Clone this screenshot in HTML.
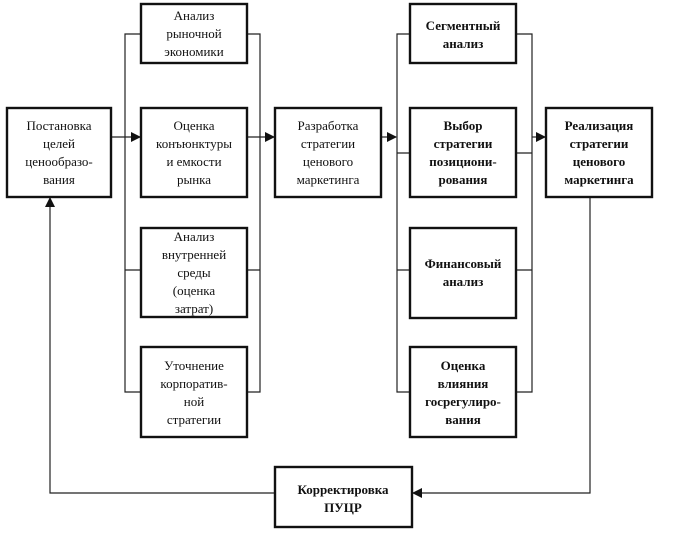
<!DOCTYPE html>
<html><head><meta charset="utf-8"><style>
body{margin:0;background:#fff;width:675px;height:543px;overflow:hidden}
svg text{font-family:"Liberation Serif",serif;font-size:13px;fill:#111;text-anchor:middle}
.b text{font-weight:bold}
</style></head><body>
<svg width="675" height="543" viewBox="0 0 675 543">
<defs><marker id="a" markerWidth="10" markerHeight="10" refX="9" refY="5" orient="auto" markerUnits="userSpaceOnUse"><path d="M0,0 L10,5 L0,10 Z" fill="#111"/></marker></defs>
<g stroke="#222" stroke-width="1.2" fill="none">
<path d="M141,34 H125 V392 H141"/><path d="M247,34 H260 V392 H247"/>
<path d="M125,270 H141 M247,270 H260"/>
<path d="M410,34 H397 V392 H410"/><path d="M516,34 H532 V392 H516"/>
<path d="M397,153 H410 M516,153 H532 M397,270 H410 M516,270 H532"/>
<path d="M112,137 H140" marker-end="url(#a)"/>
<path d="M247,137 H274" marker-end="url(#a)"/>
<path d="M381,137 H396" marker-end="url(#a)"/>
<path d="M532,137 H545" marker-end="url(#a)"/>
<path d="M590,197 V493 H413" marker-end="url(#a)"/>
<path d="M275,493 H50 V198" marker-end="url(#a)"/>
</g>
<g stroke="#111" stroke-width="2.4" fill="#fff">
<rect x="7" y="108" width="104" height="89"/>
<rect x="141" y="4" width="106" height="59"/>
<rect x="141" y="108" width="106" height="89"/>
<rect x="141" y="228" width="106" height="89"/>
<rect x="141" y="347" width="106" height="90"/>
<rect x="275" y="108" width="106" height="89"/>
<rect x="410" y="4" width="106" height="59"/>
<rect x="410" y="108" width="106" height="89"/>
<rect x="410" y="228" width="106" height="90"/>
<rect x="410" y="347" width="106" height="90"/>
<rect x="546" y="108" width="106" height="89"/>
<rect x="275" y="467" width="137" height="60"/>
</g>
<text x="59" y="130">Постановка</text><text x="59" y="148">целей</text><text x="59" y="166">ценообразо-</text><text x="59" y="184">вания</text>
<text x="194" y="20">Анализ</text><text x="194" y="38">рыночной</text><text x="194" y="56">экономики</text>
<text x="194" y="130">Оценка</text><text x="194" y="148">конъюнктуры</text><text x="194" y="166">и емкости</text><text x="194" y="184">рынка</text>
<text x="194" y="241">Анализ</text><text x="194" y="259">внутренней</text><text x="194" y="277">среды</text><text x="194" y="295">(оценка</text><text x="194" y="313">затрат)</text>
<text x="194" y="370">Уточнение</text><text x="194" y="388">корпоратив-</text><text x="194" y="406">ной</text><text x="194" y="424">стратегии</text>
<text x="328" y="130">Разработка</text><text x="328" y="148">стратегии</text><text x="328" y="166">ценового</text><text x="328" y="184">маркетинга</text>
<g class="b">
<text x="463" y="30">Сегментный</text><text x="463" y="48">анализ</text>
<text x="463" y="130">Выбор</text><text x="463" y="148">стратегии</text><text x="463" y="166">позициони-</text><text x="463" y="184">рования</text>
<text x="463" y="268">Финансовый</text><text x="463" y="286">анализ</text>
<text x="463" y="370">Оценка</text><text x="463" y="388">влияния</text><text x="463" y="406">госрегулиро-</text><text x="463" y="424">вания</text>
<text x="599" y="130">Реализация</text><text x="599" y="148">стратегии</text><text x="599" y="166">ценового</text><text x="599" y="184">маркетинга</text>
<text x="343" y="494">Корректировка</text><text x="343" y="512">ПУЦР</text>
</g>
</svg>
</body></html>
